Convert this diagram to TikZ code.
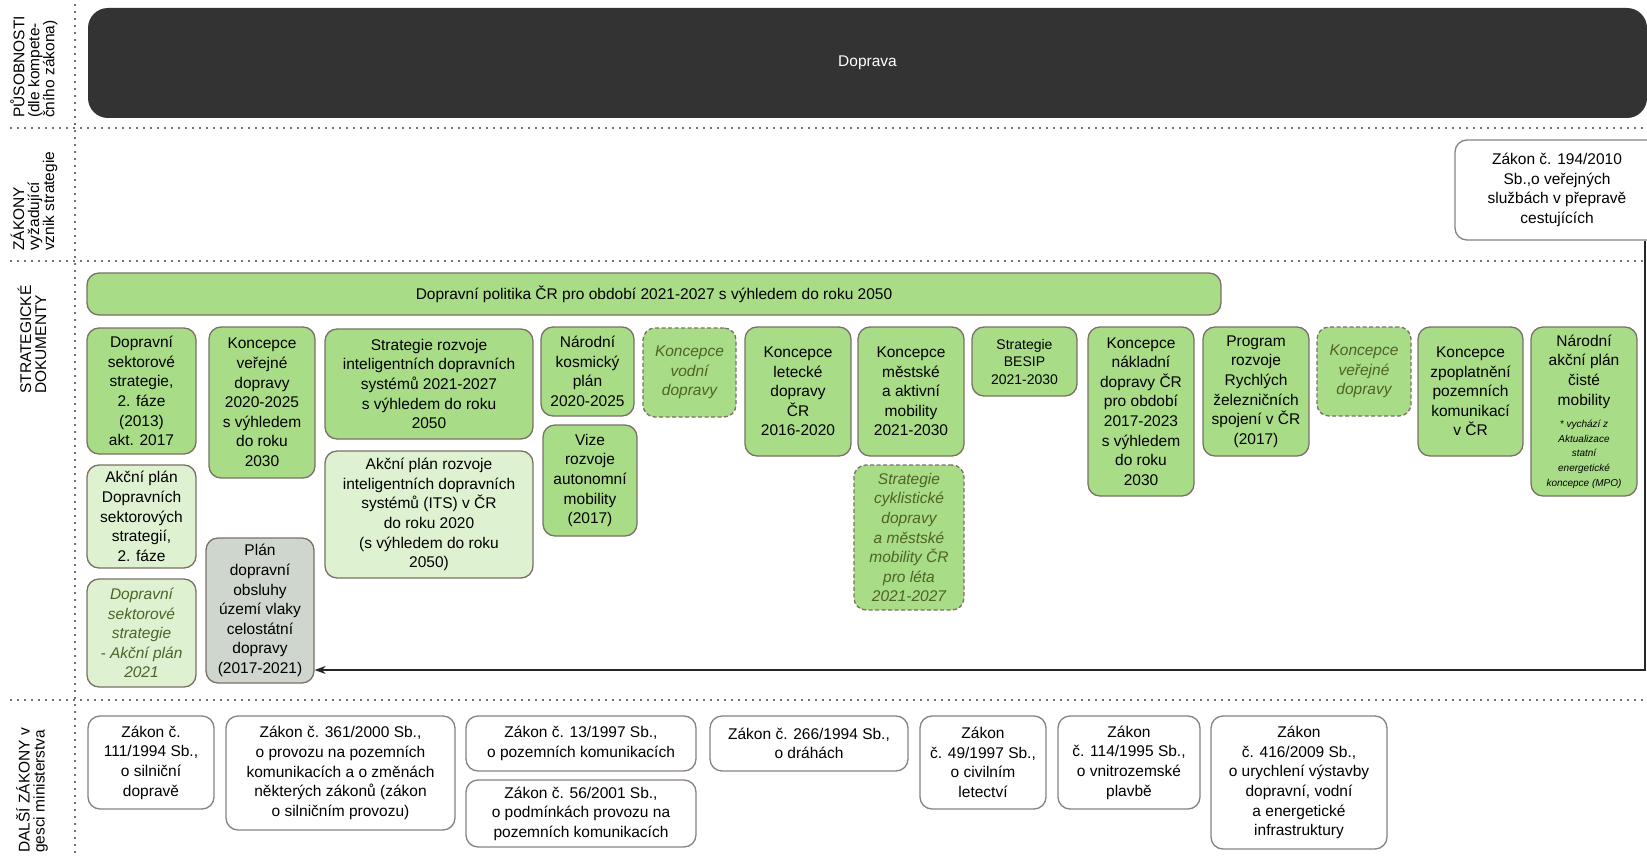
\documentclass[tikz,border=0pt]{standalone}
\usepackage{fontspec}
\setmainfont{Liberation Sans}
\usetikzlibrary{arrows.meta}
\definecolor{grn}{RGB}{169,220,134}
\definecolor{lgrn}{RGB}{222,241,209}
\definecolor{gbox}{RGB}{207,214,205}
\definecolor{bord}{RGB}{122,112,104}
\definecolor{lawb}{RGB}{135,130,126}
\definecolor{olive}{RGB}{79,98,40}
\definecolor{dark}{RGB}{51,51,51}
\definecolor{dotc}{RGB}{115,115,115}
\newcommand\smallit{\fontsize{10}{12}\selectfont\itshape}
\tikzset{
 bx/.style={draw=bord, line width=1.3pt, rounded corners=12pt, align=center, inner sep=0pt, font=\fontsize{15.5}{19.6}\selectfont},
 sg/.style={bx, fill=grn},
 sl/.style={bx, fill=lgrn},
 sgray/.style={bx, fill=gbox},
 sdash/.style={bx, fill=grn, dash pattern=on 4pt off 2.5pt, font=\fontsize{15.5}{19.6}\selectfont\itshape, text=olive},
 law/.style={bx, draw=lawb, fill=white},
 sep/.style={dotc, line width=2pt, dash pattern=on 2pt off 5pt},
 lbl/.style={rotate=90, anchor=west, align=left, inner sep=0pt, font=\fontsize{15.5}{15}\selectfont},
 conn/.style={line width=1.4pt, draw=black!85},
}
% style, name, x1, y1, x2, y2, text
\newcommand\boxat[7]{\node[#1, minimum width={(#5-#3)*1pt}, minimum height={(#6-#4)*1pt}] (#2) at ({(#3+#5)/2},{(#4+#6)/2}) {#7};}
\begin{document}
\begin{tikzpicture}[x=1pt,y=-1pt]
\useasboundingbox (0,0) rectangle (1647,856);
\clip (0,0) rectangle (1647,856);
% separators
\coordinate (v1) at (75,4);
\coordinate (v2) at (75,856);
\draw[sep] (v1) -- (v2);
\coordinate (h1a) at (10,128); \coordinate (h1b) at (1647,128);
\coordinate (h2a) at (10,261); \coordinate (h2b) at (1647,261);
\coordinate (h3a) at (10,700); \coordinate (h3b) at (1647,700);
\draw[sep] (h1a) -- (h1b);
\draw[sep] (h2a) -- (h2b);
\draw[sep] (h3a) -- (h3b);
% row labels
\node[lbl] (l1) at (34,118) {PŮSOBNOSTI\\(dle kompete-\\čního zákona)};
\node[lbl] (l2) at (34,251) {ZÁKONY\\vyžadující\\vznik strategie};
\node[lbl] (l3) at (32,394) {STRATEGICKÉ\\DOKUMENTY};
\node[lbl] (l4) at (32,853) {DALŠÍ ZÁKONY v\\gesci ministerstva};
% top dark band
\node[draw=none, fill=dark, rounded corners=20pt, minimum width=1559pt, minimum height=110pt, inner sep=0pt, text=white, font=\fontsize{15.5}{19.6}\selectfont] (doprava) at (867.5,63) {Doprava};
% law requiring strategy
\boxat{law}{z194}{1455}{140}{1659}{240}{Zákon č. 194/2010\\Sb.,o veřejných\\službách v přepravě\\cestujících}
% strategic documents
\boxat{sg}{dp}{87}{273}{1221}{315}{Dopravní politika ČR pro období 2021-2027 s výhledem do roku 2050}
\boxat{sg}{dss}{87}{328}{196}{454}{Dopravní\\sektorové\\strategie,\\2. fáze\\(2013)\\akt. 2017}
\boxat{sl}{apdss}{87}{465}{196}{568}{Akční plán\\Dopravních\\sektorových\\strategií,\\2. fáze}
\boxat{sl,font=\fontsize{15.5}{19.6}\selectfont\itshape,text=olive}{dss21}{87}{579}{196}{687}{Dopravní\\sektorové\\strategie\\- Akční plán\\2021}
\boxat{sg}{kvd}{209}{327}{315}{478}{Koncepce\\veřejné\\dopravy\\2020-2025\\s výhledem\\do roku\\2030}
\boxat{sgray}{plan}{206}{538}{314}{683}{Plán\\dopravní\\obsluhy\\území vlaky\\celostátní\\dopravy\\(2017-2021)}
\boxat{sg}{its}{325}{329}{533}{439}{Strategie rozvoje\\inteligentních dopravních\\systémů 2021-2027\\s výhledem do roku\\2050}
\boxat{sl}{apits}{325}{451}{533}{578}{Akční plán rozvoje\\inteligentních dopravních\\systémů (ITS) v ČR\\do roku 2020\\(s výhledem do roku\\2050)}
\boxat{sg}{nkp}{541}{327}{634}{416}{Národní\\kosmický\\plán\\2020-2025}
\boxat{sg}{vize}{543}{425}{637}{536}{Vize\\rozvoje\\autonomní\\mobility\\(2017)}
\boxat{sdash}{kvod}{643}{328}{736}{417}{Koncepce\\vodní\\dopravy}
\boxat{sg}{klet}{745}{327}{851}{456}{Koncepce\\letecké\\dopravy\\ČR\\2016-2020}
\boxat{sg}{kmes}{858}{327}{964}{456}{Koncepce\\městské\\a aktivní\\mobility\\2021-2030}
\boxat{sdash}{scykl}{854}{465}{964}{610}{Strategie\\cyklistické\\dopravy\\a městské\\mobility ČR\\pro léta\\2021-2027}
\boxat{sg,font=\fontsize{14}{17.5}\selectfont}{besip}{972}{327}{1077}{396}{Strategie\\BESIP\\2021-2030}
\boxat{sg}{knak}{1088}{327}{1194}{496}{Koncepce\\nákladní\\dopravy ČR\\pro období\\2017-2023\\s výhledem\\do roku\\2030}
\boxat{sg}{prog}{1203}{327}{1309}{456}{Program\\rozvoje\\Rychlých\\železničních\\spojení v ČR\\(2017)}
\boxat{sdash}{kver2}{1317}{327}{1411}{416}{Koncepce\\veřejné\\dopravy}
\boxat{sg}{kzpo}{1418}{327}{1523}{456}{Koncepce\\zpoplatnění\\pozemních\\komunikací\\v ČR}
\boxat{sg}{napcm}{1531}{327}{1637}{496}{Národní\\akční plán\\čisté\\mobility\\[3pt]{\smallit * vychází z}\\[-5pt]{\smallit Aktualizace}\\[-5pt]{\smallit statní}\\[-5pt]{\smallit energetické}\\[-5pt]{\smallit koncepce (MPO)}}
% other laws
\boxat{law}{z111}{88}{716}{214}{809}{Zákon č.\\111/1994 Sb.,\\o silniční\\dopravě}
\boxat{law}{z361}{226}{716}{455}{830}{Zákon č. 361/2000 Sb.,\\o provozu na pozemních\\komunikacích a o změnách\\některých zákonů (zákon\\o silničním provozu)}
\boxat{law}{z13}{466}{716}{696}{771}{Zákon č. 13/1997 Sb.,\\o pozemních komunikacích}
\boxat{law}{z56}{466}{780}{696}{847}{Zákon č. 56/2001 Sb.,\\o podmínkách provozu na\\pozemních komunikacích}
\boxat{law}{z266}{710}{716}{908}{771}{Zákon č. 266/1994 Sb.,\\o dráhách}
\boxat{law}{z49}{920}{716}{1046}{809}{Zákon\\č. 49/1997 Sb.,\\o civilním\\letectví}
\boxat{law}{z114}{1058}{716}{1200}{809}{Zákon\\č. 114/1995 Sb.,\\o vnitrozemské\\plavbě}
\boxat{law}{z416}{1211}{716}{1387}{849}{Zákon\\č. 416/2009 Sb.,\\o urychlení výstavby\\dopravní, vodní\\a energetické\\infrastruktury}
% connector
\coordinate (turn) at (1645,670);
\draw[conn, -{Stealth[length=11pt,width=8pt]}] (z194.south -| turn) -- (turn) -- (turn -| plan.east);
\end{tikzpicture}
\end{document}
